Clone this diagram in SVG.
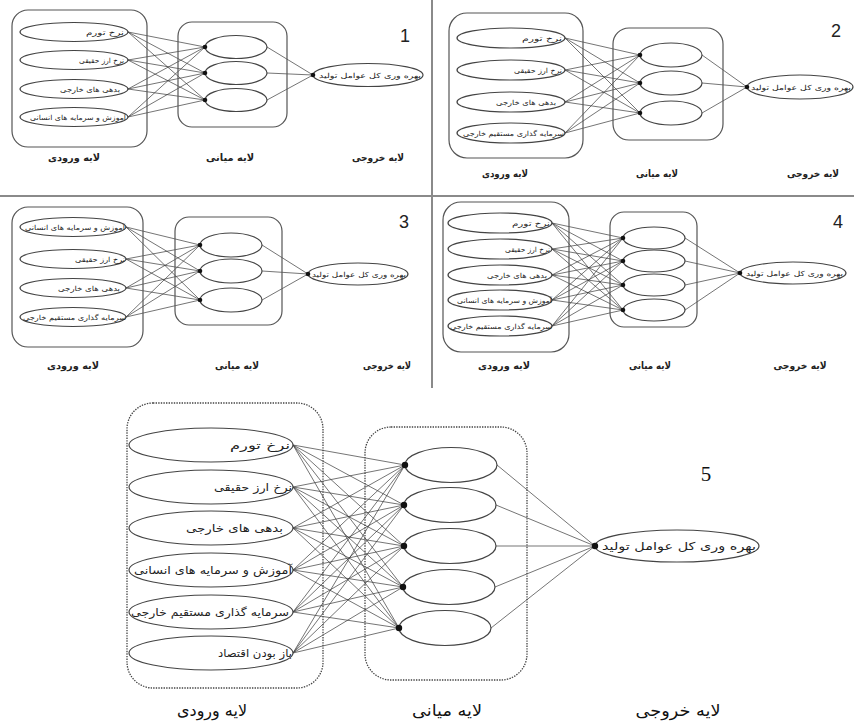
<svg xmlns="http://www.w3.org/2000/svg" width="854" height="724" viewBox="0 0 854 724">
  <style>
    .box  { fill: none; stroke: #555; stroke-width: 1.2; }
    .dbox { fill: none; stroke: #444; stroke-width: 1.3; stroke-dasharray: 1.4 1.2; }
    .node { fill: #fff; stroke: #444; stroke-width: 1.2; }
    .link { fill: none; stroke: #3a3a3a; stroke-width: 0.7; }
    .dot  { fill: #111; }
    .sep  { stroke: #8a8a8a; stroke-width: 2; }
    .t    { font-family: "DejaVu Sans", sans-serif; fill: #222; text-anchor: end; }
    .s    { font-size: 7px; }
    .m    { font-size: 11px; }
    .lbl  { font-family: "DejaVu Sans", sans-serif; fill: #222; text-anchor: middle; font-weight: bold; font-size: 10px; }
    .lbl5 { font-size: 16px; font-weight: normal; fill: #111; }
    .num  { font-family: "Liberation Sans", Arial, sans-serif; fill: #222; font-size: 18px; text-anchor: middle; }
    .num5 { font-family: "Liberation Serif", "Times New Roman", serif; fill: #111; font-size: 21px; text-anchor: middle; }
  </style>

  <rect width="854" height="724" fill="#fff"/>

  <!-- panel separators -->
  <g id="separators">
    <line class="sep" x1="432" y1="0" x2="432" y2="388"/>
    <line class="sep" x1="0" y1="196" x2="854" y2="196"/>
  </g>

  <!-- ===== Panel 1 ===== -->
  <g id="panel1">
    <g id="p1-links">
      <path class="link" d="M128 32L205 47M128 32L205 73M128 32L205 100M128 60L205 47M128 60L205 73M128 60L205 100M128 89L205 47M128 89L205 73M128 89L205 100M128 117L205 47M128 117L205 73M128 117L205 100M267 47L313 75M267 73L313 75M267 100L313 75"/>
    </g>
    <g id="p1-input-layer">
      <rect class="box" x="12" y="10" width="135" height="137" rx="16"/>
      <g id="p1-in1"><ellipse class="node" cx="74" cy="32" rx="54" ry="9.5"/><text class="t s" x="124" y="34.5" textLength="38" lengthAdjust="spacingAndGlyphs">نرخ تورم</text></g>
      <g id="p1-in2"><ellipse class="node" cx="74" cy="60" rx="54" ry="9.5"/><text class="t s" x="124" y="62.5" textLength="45" lengthAdjust="spacingAndGlyphs">نرخ ارز حقیقی</text></g>
      <g id="p1-in3"><ellipse class="node" cx="74" cy="89" rx="54" ry="9.5"/><text class="t s" x="120" y="91.5" textLength="60" lengthAdjust="spacingAndGlyphs">بدهی های خارجی</text></g>
      <g id="p1-in4"><ellipse class="node" cx="74" cy="117" rx="54" ry="9.5"/><text class="t s" x="126" y="119.5" textLength="96" lengthAdjust="spacingAndGlyphs">آموزش و سرمایه های انسانی</text></g>
    </g>
    <g id="p1-hidden-layer">
      <rect class="box" x="178" y="22" width="109" height="105" rx="14"/>
      <g id="p1-h1"><ellipse class="node" cx="236" cy="47" rx="31" ry="11.5"/><circle class="dot" cx="205" cy="47" r="2.3"/></g>
      <g id="p1-h2"><ellipse class="node" cx="236" cy="73" rx="31" ry="11.5"/><circle class="dot" cx="205" cy="73" r="2.3"/></g>
      <g id="p1-h3"><ellipse class="node" cx="236" cy="100" rx="31" ry="11.5"/><circle class="dot" cx="205" cy="100" r="2.3"/></g>
    </g>
    <g id="p1-out">
      <ellipse class="node" cx="368" cy="75" rx="55" ry="11.5"/>
      <circle class="dot" cx="313" cy="75" r="2.3"/>
      <text class="t s" x="421" y="77.5" textLength="102" lengthAdjust="spacingAndGlyphs">بهره وری کل عوامل تولید</text>
    </g>
    <text class="num" x="405" y="42">1</text>
    <text class="lbl" x="74" y="161" textLength="52" lengthAdjust="spacingAndGlyphs">لایه ورودی</text>
    <text class="lbl" x="230" y="161" textLength="48" lengthAdjust="spacingAndGlyphs">لایه میانی</text>
    <text class="lbl" x="378" y="161" textLength="52" lengthAdjust="spacingAndGlyphs">لایه خروجی</text>
  </g>

  <!-- ===== Panel 2 ===== -->
  <g id="panel2">
    <g id="p2-links">
      <path class="link" d="M565 38L640 55M565 38L640 83M565 38L640 113M565 70L640 55M565 70L640 83M565 70L640 113M565 102L640 55M565 102L640 83M565 102L640 113M565 133L640 55M565 133L640 83M565 133L640 113M702 55L747 87M702 83L747 87M702 113L747 87"/>
    </g>
    <g id="p2-input-layer">
      <rect class="box" x="449" y="13" width="134" height="145" rx="18"/>
      <g id="p2-in1"><ellipse class="node" cx="511" cy="38" rx="54" ry="10"/><text class="t s" x="562" y="40.5" textLength="40" lengthAdjust="spacingAndGlyphs">نرخ تورم</text></g>
      <g id="p2-in2"><ellipse class="node" cx="511" cy="70" rx="54" ry="10"/><text class="t s" x="562" y="72.5" textLength="48" lengthAdjust="spacingAndGlyphs">نرخ ارز حقیقی</text></g>
      <g id="p2-in3"><ellipse class="node" cx="511" cy="102" rx="54" ry="10"/><text class="t s" x="556" y="104.5" textLength="60" lengthAdjust="spacingAndGlyphs">بدهی های خارجی</text></g>
      <g id="p2-in4"><ellipse class="node" cx="511" cy="133" rx="54" ry="10"/><text class="t s" x="564" y="135.5" textLength="101" lengthAdjust="spacingAndGlyphs">سرمایه گذاری مستقیم خارجی</text></g>
    </g>
    <g id="p2-hidden-layer">
      <rect class="box" x="613" y="28" width="110" height="112" rx="16"/>
      <g id="p2-h1"><ellipse class="node" cx="671" cy="55" rx="31" ry="12"/><circle class="dot" cx="640" cy="55" r="2.3"/></g>
      <g id="p2-h2"><ellipse class="node" cx="671" cy="83" rx="31" ry="12"/><circle class="dot" cx="640" cy="83" r="2.3"/></g>
      <g id="p2-h3"><ellipse class="node" cx="671" cy="113" rx="31" ry="12"/><circle class="dot" cx="640" cy="113" r="2.3"/></g>
    </g>
    <g id="p2-out">
      <ellipse class="node" cx="800" cy="87" rx="53" ry="12"/>
      <circle class="dot" cx="747" cy="87" r="2.3"/>
      <text class="t s" x="851" y="89.5" textLength="100" lengthAdjust="spacingAndGlyphs">بهره وری کل عوامل تولید</text>
    </g>
    <text class="num" x="836" y="37">2</text>
    <text class="lbl" x="505" y="177" textLength="46" lengthAdjust="spacingAndGlyphs">لایه ورودی</text>
    <text class="lbl" x="657" y="177" textLength="42" lengthAdjust="spacingAndGlyphs">لایه میانی</text>
    <text class="lbl" x="813" y="177" textLength="52" lengthAdjust="spacingAndGlyphs">لایه خروجی</text>
  </g>

  <!-- ===== Panel 3 ===== -->
  <g id="panel3">
    <g id="p3-links">
      <path class="link" d="M126 227L200 245M126 227L200 271M126 227L200 300M126 259L200 245M126 259L200 271M126 259L200 300M126 288L200 245M126 288L200 271M126 288L200 300M126 317L200 245M126 317L200 271M126 317L200 300M262 245L308 274M262 271L308 274M262 300L308 274"/>
    </g>
    <g id="p3-input-layer">
      <rect class="box" x="12" y="207" width="131" height="140" rx="16"/>
      <g id="p3-in1"><ellipse class="node" cx="73" cy="227" rx="53" ry="9.5"/><text class="t s" x="125" y="229.5" textLength="100" lengthAdjust="spacingAndGlyphs">آموزش و سرمایه های انسانی</text></g>
      <g id="p3-in2"><ellipse class="node" cx="73" cy="259" rx="53" ry="9.5"/><text class="t s" x="125" y="261.5" textLength="50" lengthAdjust="spacingAndGlyphs">نرخ ارز حقیقی</text></g>
      <g id="p3-in3"><ellipse class="node" cx="73" cy="288" rx="53" ry="9.5"/><text class="t s" x="120" y="290.5" textLength="62" lengthAdjust="spacingAndGlyphs">بدهی های خارجی</text></g>
      <g id="p3-in4"><ellipse class="node" cx="73" cy="317" rx="53" ry="9.5"/><text class="t s" x="126" y="319.5" textLength="103" lengthAdjust="spacingAndGlyphs">سرمایه گذاری مستقیم خارجی</text></g>
    </g>
    <g id="p3-hidden-layer">
      <rect class="box" x="175" y="217" width="107" height="108" rx="14"/>
      <g id="p3-h1"><ellipse class="node" cx="231" cy="245" rx="31" ry="12"/><circle class="dot" cx="200" cy="245" r="2.3"/></g>
      <g id="p3-h2"><ellipse class="node" cx="231" cy="271" rx="31" ry="12"/><circle class="dot" cx="200" cy="271" r="2.3"/></g>
      <g id="p3-h3"><ellipse class="node" cx="231" cy="300" rx="31" ry="12"/><circle class="dot" cx="200" cy="300" r="2.3"/></g>
    </g>
    <g id="p3-out">
      <ellipse class="node" cx="358" cy="274" rx="50" ry="11"/>
      <circle class="dot" cx="308" cy="274" r="2.3"/>
      <text class="t s" x="406" y="276.5" textLength="94" lengthAdjust="spacingAndGlyphs">بهره وری کل عوامل تولید</text>
    </g>
    <text class="num" x="404" y="228">3</text>
    <text class="lbl" x="73" y="369" textLength="52" lengthAdjust="spacingAndGlyphs">لایه ورودی</text>
    <text class="lbl" x="237" y="369" textLength="44" lengthAdjust="spacingAndGlyphs">لایه میانی</text>
    <text class="lbl" x="387" y="369" textLength="48" lengthAdjust="spacingAndGlyphs">لایه خروجی</text>
  </g>

  <!-- ===== Panel 4 ===== -->
  <g id="panel4">
    <g id="p4-links">
      <path class="link" d="M552 223L623 238M552 223L623 261M552 223L623 285M552 223L623 310M552 249L623 238M552 249L623 261M552 249L623 285M552 249L623 310M552 275L623 238M552 275L623 261M552 275L623 285M552 275L623 310M552 300L623 238M552 300L623 261M552 300L623 285M552 300L623 310M552 326L623 238M552 326L623 261M552 326L623 285M552 326L623 310M685 238L740 273M685 261L740 273M685 285L740 273M685 310L740 273"/>
    </g>
    <g id="p4-input-layer">
      <rect class="box" x="443" y="202" width="126" height="150" rx="18"/>
      <g id="p4-in1"><ellipse class="node" cx="500" cy="223" rx="52" ry="10"/><text class="t s" x="550" y="225.5" textLength="38" lengthAdjust="spacingAndGlyphs">نرخ تورم</text></g>
      <g id="p4-in2"><ellipse class="node" cx="500" cy="249" rx="52" ry="10"/><text class="t s" x="550" y="251.5" textLength="45" lengthAdjust="spacingAndGlyphs">نرخ ارز حقیقی</text></g>
      <g id="p4-in3"><ellipse class="node" cx="500" cy="275" rx="52" ry="10"/><text class="t s" x="547" y="277.5" textLength="60" lengthAdjust="spacingAndGlyphs">بدهی های خارجی</text></g>
      <g id="p4-in4"><ellipse class="node" cx="500" cy="300" rx="52" ry="10"/><text class="t s" x="552" y="302.5" textLength="95" lengthAdjust="spacingAndGlyphs">آموزش و سرمایه های انسانی</text></g>
      <g id="p4-in5"><ellipse class="node" cx="500" cy="326" rx="52" ry="10"/><text class="t s" x="552" y="328.5" textLength="102" lengthAdjust="spacingAndGlyphs">سرمایه گذاری مستقیم خارجی</text></g>
    </g>
    <g id="p4-hidden-layer">
      <rect class="box" x="610" y="212" width="87" height="115" rx="14"/>
      <g id="p4-h1"><ellipse class="node" cx="654" cy="238" rx="31" ry="11"/><circle class="dot" cx="623" cy="238" r="2.3"/></g>
      <g id="p4-h2"><ellipse class="node" cx="654" cy="261" rx="31" ry="11"/><circle class="dot" cx="623" cy="261" r="2.3"/></g>
      <g id="p4-h3"><ellipse class="node" cx="654" cy="285" rx="31" ry="11"/><circle class="dot" cx="623" cy="285" r="2.3"/></g>
      <g id="p4-h4"><ellipse class="node" cx="654" cy="310" rx="31" ry="11"/><circle class="dot" cx="623" cy="310" r="2.3"/></g>
    </g>
    <g id="p4-out">
      <ellipse class="node" cx="793" cy="273" rx="53" ry="11"/>
      <circle class="dot" cx="740" cy="273" r="2.3"/>
      <text class="t s" x="843" y="275.5" textLength="97" lengthAdjust="spacingAndGlyphs">بهره وری کل عوامل تولید</text>
    </g>
    <text class="num" x="838" y="228">4</text>
    <text class="lbl" x="504" y="369" textLength="52" lengthAdjust="spacingAndGlyphs">لایه ورودی</text>
    <text class="lbl" x="650" y="369" textLength="42" lengthAdjust="spacingAndGlyphs">لایه میانی</text>
    <text class="lbl" x="800" y="369" textLength="53" lengthAdjust="spacingAndGlyphs">لایه خروجی</text>
  </g>

  <!-- ===== Panel 5 ===== -->
  <g id="panel5">
    <g id="p5-links">
      <path class="link" d="M293 445L405 465M293 445L404 505M293 445L404 546M293 445L403 587M293 445L399 628M293 487L405 465M293 487L404 505M293 487L404 546M293 487L403 587M293 487L399 628M293 528L405 465M293 528L404 505M293 528L404 546M293 528L403 587M293 528L399 628M293 570L405 465M293 570L404 505M293 570L404 546M293 570L403 587M293 570L399 628M293 612L405 465M293 612L404 505M293 612L404 546M293 612L403 587M293 612L399 628M293 653L405 465M293 653L404 505M293 653L404 546M293 653L403 587M293 653L399 628M497 465L595 546M496 505L595 546M496 546L595 546M495 587L595 546M491 628L595 546"/>
    </g>
    <g id="p5-input-layer">
      <rect class="dbox" x="127" y="403" width="196" height="285" rx="26"/>
      <g id="p5-in1"><ellipse class="node" cx="211" cy="445" rx="82" ry="17"/><text class="t m" x="290" y="449" textLength="60" lengthAdjust="spacingAndGlyphs">نرخ تورم</text></g>
      <g id="p5-in2"><ellipse class="node" cx="211" cy="487" rx="82" ry="17"/><text class="t m" x="292" y="491" textLength="78" lengthAdjust="spacingAndGlyphs">نرخ ارز حقیقی</text></g>
      <g id="p5-in3"><ellipse class="node" cx="211" cy="528" rx="82" ry="17"/><text class="t m" x="283" y="532" textLength="97" lengthAdjust="spacingAndGlyphs">بدهی های خارجی</text></g>
      <g id="p5-in4"><ellipse class="node" cx="211" cy="570" rx="82" ry="17"/><text class="t m" x="292" y="574" textLength="158" lengthAdjust="spacingAndGlyphs">آموزش و سرمایه های انسانی</text></g>
      <g id="p5-in5"><ellipse class="node" cx="211" cy="612" rx="82" ry="17"/><text class="t m" x="289" y="616" textLength="158" lengthAdjust="spacingAndGlyphs">سرمایه گذاری مستقیم خارجی</text></g>
      <g id="p5-in6"><ellipse class="node" cx="211" cy="653" rx="82" ry="17"/><text class="t m" x="292" y="657" textLength="74" lengthAdjust="spacingAndGlyphs">باز بودن اقتصاد</text></g>
    </g>
    <g id="p5-hidden-layer">
      <rect class="dbox" x="365" y="427" width="162" height="253" rx="26"/>
      <g id="p5-h1"><ellipse class="node" cx="451" cy="465" rx="46" ry="17.5"/><circle class="dot" cx="405" cy="465" r="3.2"/></g>
      <g id="p5-h2"><ellipse class="node" cx="450" cy="505" rx="46" ry="17.5"/><circle class="dot" cx="404" cy="505" r="3.2"/></g>
      <g id="p5-h3"><ellipse class="node" cx="450" cy="546" rx="46" ry="17.5"/><circle class="dot" cx="404" cy="546" r="3.2"/></g>
      <g id="p5-h4"><ellipse class="node" cx="449" cy="587" rx="46" ry="17.5"/><circle class="dot" cx="403" cy="587" r="3.2"/></g>
      <g id="p5-h5"><ellipse class="node" cx="445" cy="628" rx="46" ry="17.5"/><circle class="dot" cx="399" cy="628" r="3.2"/></g>
    </g>
    <g id="p5-out">
      <ellipse class="node" cx="677" cy="546" rx="82" ry="16"/>
      <circle class="dot" cx="595" cy="546" r="3.2"/>
      <text class="t m" x="756" y="550" textLength="154" lengthAdjust="spacingAndGlyphs">بهره وری کل عوامل تولید</text>
    </g>
    <text class="num5" x="706" y="481">5</text>
    <text class="lbl lbl5" x="212" y="716" textLength="70" lengthAdjust="spacingAndGlyphs">لایه ورودی</text>
    <text class="lbl lbl5" x="447" y="716" textLength="70" lengthAdjust="spacingAndGlyphs">لایه میانی</text>
    <text class="lbl lbl5" x="678" y="716" textLength="85" lengthAdjust="spacingAndGlyphs">لایه خروجی</text>
  </g>
</svg>
